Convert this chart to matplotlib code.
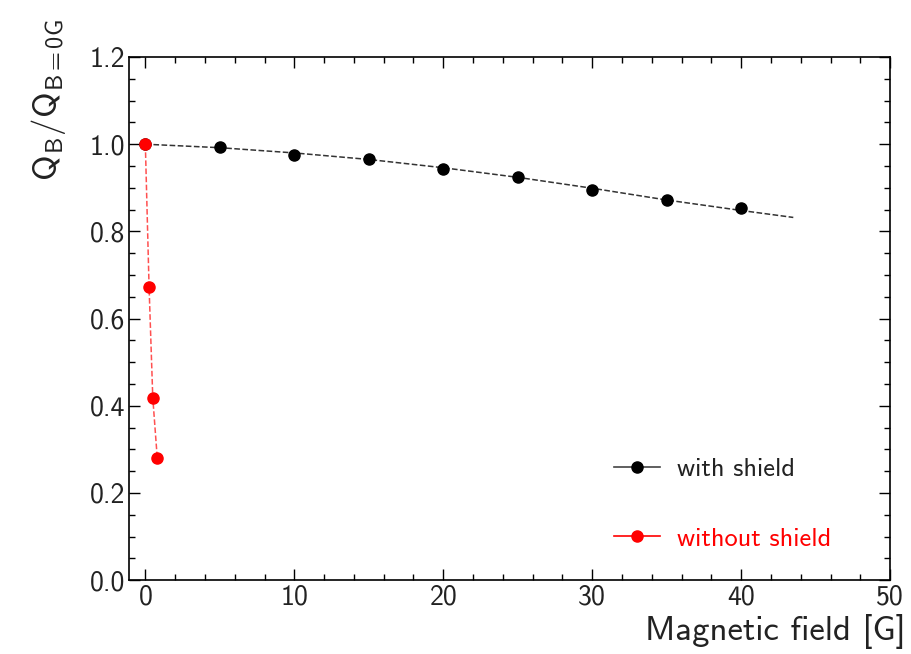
import numpy as np
import matplotlib
matplotlib.use("Agg")
import matplotlib.pyplot as plt
import matplotlib.ticker as mticker

plt.rcParams["font.family"] = "cmss10"
plt.rcParams["mathtext.fontset"] = "custom"
plt.rcParams["mathtext.rm"] = "cmss10"
plt.rcParams["mathtext.it"] = "cmss10"
plt.rcParams["axes.unicode_minus"] = False
plt.rcParams["axes.formatter.use_mathtext"] = False

# with shield: measured points
b_shield = [0, 5, 10, 15, 20, 25, 30, 35, 40]
q_shield = [1.0, 0.993, 0.976, 0.965, 0.944, 0.924, 0.896, 0.871, 0.853]

# dashed trend line for the shielded case
b_trend = [0, 5, 10, 15, 20, 25, 30, 35, 40, 43.5]
q_trend = [1.0, 0.992, 0.980, 0.965, 0.946, 0.924, 0.899, 0.872, 0.848, 0.832]

# without shield
b_noshield = [0, 0.25, 0.5, 0.8]
q_noshield = [1.0, 0.673, 0.418, 0.28]

fig = plt.figure(figsize=(9.12, 6.54), dpi=100)
ax = fig.add_axes([0.1414, 0.113, 0.8346, 0.7998])

ax.plot(b_trend, q_trend, ls="--", color="#333333", lw=1.1, zorder=2)
ax.plot(b_shield, q_shield, "o", color="black", ms=8, zorder=3)
ax.plot(b_noshield, q_noshield, ls="--", color="#ff5050", lw=1.1, zorder=2)
ax.plot(b_noshield, q_noshield, "o", color="red", ms=8, zorder=4)

# legend handles (line with marker)
h1, = ax.plot([], [], "-o", color="#444444", mfc="black", mec="black", ms=8,
              lw=1.2, label="with shield")
h2, = ax.plot([], [], "-o", color="red", ms=8, lw=1.2, label="without shield")
leg = ax.legend(handles=[h1, h2], loc="lower left", bbox_to_anchor=(0.606, 0.011),
                frameon=False, fontsize=19, labelspacing=1.75, handlelength=1.75,
                handletextpad=0.65, labelcolor=["#222222", "red"])

ax.set_xlim(-1.1, 50)
ax.set_ylim(0, 1.2)
ax.xaxis.set_major_locator(mticker.MultipleLocator(10))
ax.xaxis.set_minor_locator(mticker.MultipleLocator(2))
ax.yaxis.set_major_locator(mticker.MultipleLocator(0.2))
ax.yaxis.set_minor_locator(mticker.MultipleLocator(0.05))
ax.yaxis.set_major_formatter(mticker.FormatStrFormatter("%.1f"))
ax.tick_params(which="both", direction="in", top=True, right=True,
               labelsize=20, colors="black", labelcolor="#222222", pad=3)
ax.tick_params(which="major", length=8, width=1.0)
ax.tick_params(which="minor", length=4.5, width=1.0)
for sp in ax.spines.values():
    sp.set_linewidth(1.2)

ax.set_xlabel("Magnetic field [G]", fontsize=25, loc="right", color="#222222")
ax.xaxis.set_label_coords(1.02, -0.065)
ax.set_ylabel(r"$\mathrm{Q_B/Q_{B=0G}}$", fontsize=25, loc="top", color="#222222")
ax.yaxis.set_label_coords(-0.08, 1.072)

fig.savefig("out.png", dpi=100)
